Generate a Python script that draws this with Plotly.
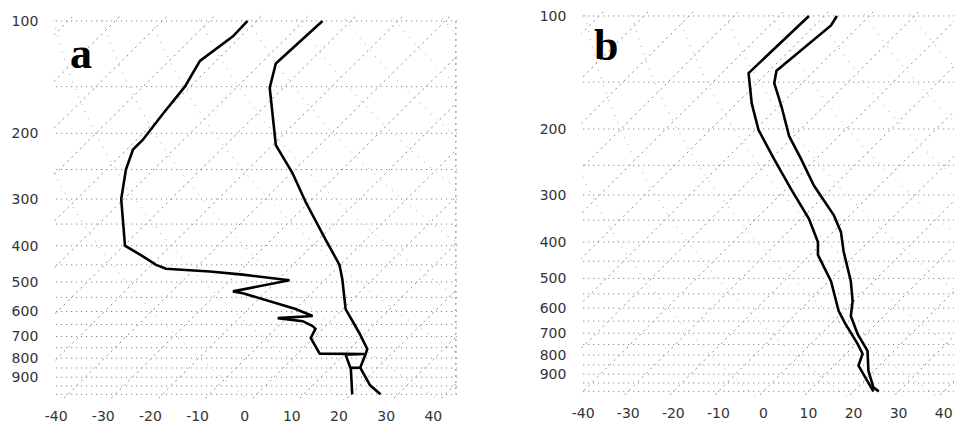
import numpy as np
import plotly.graph_objects as go

# ---------------- data (pressure hPa, temperature on the skewed axis, deg C) ----------------
a_temp_p = [100, 130, 151, 177, 215, 255, 305, 384, 450, 492, 591, 685, 756, 783, 848, 946, 1000]
a_temp_t = [16.5, 6.6, 5.3, 5.9, 6.6, 10.1, 12.9, 17.1, 20.1, 20.7, 21.4, 24.3, 26.0, 25.6, 24.5, 26.6, 28.8]

a_dew_p = [100, 110, 128, 150, 177, 208, 221, 250, 300, 345, 400, 427, 450, 461, 469, 478, 489, 495,
           530, 536, 563, 591, 617, 625, 637, 656, 668, 706, 778, 780, 783, 848, 849, 850, 1000]
a_dew_t = [0.6, -2.5, -9.5, -12.7, -17.3, -21.6, -23.7, -25.2, -26.2, -25.8, -25.4, -21.6, -18.8, -16.7,
           -7.4, -0.4, 6.6, 9.5, -2.5, -0.4, 5.3, 10.8, 14.4, 7.0, 12.3, 14.4, 15.0, 14.0, 15.9, 25.4,
           21.4, 22.4, 24.5, 22.5, 22.8]

b_left_p = [100, 142, 171, 201, 241, 290, 347, 400, 433, 509, 611, 658, 747, 794, 854, 935, 1000]
b_left_t = [10.1, -3.3, -2.6, -1.1, 2.4, 6.2, 10.1, 12.1, 12.1, 15.0, 16.7, 18.1, 20.9, 22.0, 21.1, 23.1, 24.4]

b_right_p = [100, 106, 140, 151, 174, 209, 241, 283, 339, 376, 424, 509, 575, 630, 703, 780, 881, 976, 1000]
b_right_t = [16.3, 15.0, 2.9, 2.4, 4.0, 5.7, 8.4, 11.2, 15.6, 17.2, 17.8, 19.4, 19.8, 19.4, 20.9, 23.1, 23.3, 24.4, 25.6]

pressure_ticks = [100, 200, 300, 400, 500, 600, 700, 800, 900]
pressure_levels = [100, 150, 200, 250, 300, 350, 400, 450, 500, 550, 600, 650, 700, 750, 800, 850, 900, 950, 1000]
temp_ticks = [-40, -30, -20, -10, 0, 10, 20, 30, 40]
isotherm_values = list(range(-130, 60, 10))
theta_values = list(range(270, 470, 20))
panel_labels = ["a", "b"]

fig = go.Figure()

GRID = "#707070"
p_curve = np.logspace(np.log10(95), np.log10(1100), 120)


def add_background(xa, ya, skew, p0, xmin, xmax):
    # isobars
    for p in pressure_levels:
        fig.add_trace(go.Scatter(x=[xmin, xmax], y=[p, p], mode="lines", xaxis=xa, yaxis=ya,
                                 line=dict(color=GRID, width=1, dash="1px,4px"),
                                 hoverinfo="skip", showlegend=False))
    # skewed isotherms
    for t in isotherm_values:
        x = t + skew * np.log10(p0 / p_curve)
        fig.add_trace(go.Scatter(x=x, y=p_curve, mode="lines", xaxis=xa, yaxis=ya,
                                 line=dict(color="#8a8a8a", width=1, dash="2px,4px"),
                                 hoverinfo="skip", showlegend=False))
    # dry adiabats
    for th in theta_values:
        tk = th * (p_curve / 1000.0) ** 0.286 - 273.15
        x = tk + skew * np.log10(p0 / p_curve)
        fig.add_trace(go.Scatter(x=x, y=p_curve, mode="lines", xaxis=xa, yaxis=ya,
                                 line=dict(color="#a0a0a0", width=1, dash="1px,7px"),
                                 hoverinfo="skip", showlegend=False))


add_background("x", "y", 80.0, 1075.0, -40.0, 45.0)
add_background("x2", "y2", 83.5, 1000.0, -40.0, 50.0)

for xs, ps, xa, ya in [(a_temp_t, a_temp_p, "x", "y"), (a_dew_t, a_dew_p, "x", "y"),
                       (b_left_t, b_left_p, "x2", "y2"), (b_right_t, b_right_p, "x2", "y2")]:
    fig.add_trace(go.Scatter(x=xs, y=ps, mode="lines", xaxis=xa, yaxis=ya,
                             line=dict(color="black", width=2.6),
                             hoverinfo="skip", showlegend=False))

tickfont = dict(family="DejaVu Sans", size=14, color="#333333")

common_x = dict(tickmode="array", tickvals=temp_ticks, ticktext=[str(v) for v in temp_ticks],
                showgrid=False, zeroline=False, showline=False, ticks="", tickfont=tickfont,
                ticklabelstandoff=6, ticklabeloverflow="allow", fixedrange=True)
common_y = dict(type="log", tickmode="array", tickvals=pressure_ticks,
                ticktext=[str(v) for v in pressure_ticks], showgrid=False, zeroline=False,
                showline=False, ticks="", tickfont=tickfont, ticklabelstandoff=14,
                ticklabeloverflow="allow", fixedrange=True)

# page keeps the default 8px body margin; horizontal placement calibrated to the capture
W, H = 946, 421
OFF = 8


def fx(X):
    return ((X - 6.6) / 0.993 - OFF) / W


def fy(Y):
    return 1 - (Y - OFF) / H


fig.update_layout(
    width=W, height=H,
    margin=dict(l=0, r=0, t=0, b=0),
    paper_bgcolor="white", plot_bgcolor="white",
    xaxis=dict(domain=[fx(50), fx(455)], range=[-40.6, 45.0], anchor="y", **common_x),
    yaxis=dict(domain=[fy(400), fy(10)], range=[3.0159, 1.9814], anchor="x", **common_y),
    xaxis2=dict(domain=[fx(580), 1.0], range=[-40.4, 42.3], anchor="y2", **common_x),
    yaxis2=dict(domain=[fy(397), 1.0], range=[3.0158, 1.98945], anchor="x2", **common_y),
    shapes=[dict(type="line", xref="x", yref="y", x0=44.8, x1=44.8, y0=100, y1=1000,
                 line=dict(color=GRID, width=1, dash="2px,4px"))],
    annotations=[
        dict(text="<b>" + panel_labels[0] + "</b>", xref="paper", yref="paper",
             x=fx(78), y=fy(50),
             showarrow=False, font=dict(family="Liberation Serif", size=44, color="black"),
             xanchor="center", yanchor="middle"),
        dict(text="<b>" + panel_labels[1] + "</b>", xref="paper", yref="paper",
             x=fx(605), y=fy(42),
             showarrow=False, font=dict(family="Liberation Serif", size=44, color="black"),
             xanchor="center", yanchor="middle"),
    ],
)

fig.write_html("out.html", config={"displayModeBar": False})
